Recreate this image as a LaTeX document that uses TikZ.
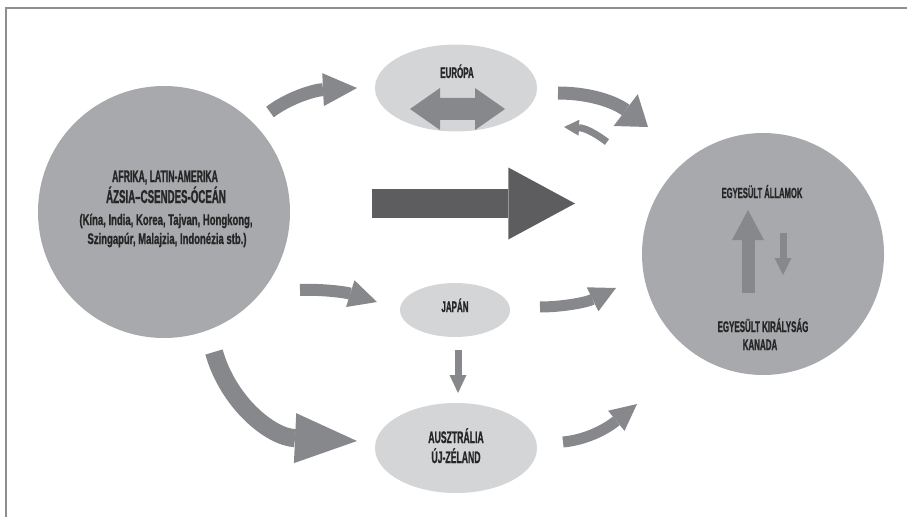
\documentclass[tikz,border=0pt]{standalone}
\usepackage{fontspec}
\setmainfont{Liberation Sans}[FakeStretch=0.52,BoldFeatures={FakeBold=1}]
\newfontfamily\widefont{Liberation Sans}[FakeStretch=0.62,BoldFeatures={FakeBold=1}]
\usetikzlibrary{arrows.meta,shapes.geometric}

\definecolor{discgray}{HTML}{A8A9AC}
\definecolor{ovalgray}{HTML}{D4D5D7}
\definecolor{flowgray}{HTML}{87888B}
\definecolor{maingray}{HTML}{5D5D60}
\definecolor{inkgray}{HTML}{262626}
\definecolor{framegray}{HTML}{8E8E8E}

\tikzset{
  bigdisc/.style={circle,fill=discgray,inner sep=0pt},
  region/.style={ellipse,fill=ovalgray,inner sep=0pt},
  lbl/.style={text=inkgray,inner sep=0.75pt,anchor=base,font=\bfseries\fontsize{#1}{14}\selectfont},
  lbl/.default=12,
  flow/.style={draw=flowgray,line cap=butt},
  flowtip/.style 2 args={-{Triangle[length=#1,width=#2,line width=0pt]}}
}

\begin{document}
\begin{tikzpicture}[x=0.75pt,y=0.75pt,yscale=-1,xscale=1]
\useasboundingbox (0,0) rectangle (907,517);

%Frame
\draw [framegray,line width=1pt] (6,517) |- (907,8) ;

%Shape: Circles
\node (src) [bigdisc,minimum size=189pt] at (164,212) {};
\node (usa) [bigdisc,minimum size=181.5pt] at (763,254) {};
%Shape: Ellipses
\node (eu) [region,minimum width=121.5pt,minimum height=65.25pt] at (456,88) {};
\node (jp) [region,minimum width=82.5pt,minimum height=40.5pt] at (455,310) {};
\node (au) [region,minimum width=121.5pt,minimum height=67.5pt] at (456,448) {};

% Text Node
\node (srcA) [lbl=12.5] at (165,182) {AFRIKA, LATIN-AMERIKA};
\node (srcB) [lbl=14] at (166,203) {ÁZSIA–CSENDES-ÓCEÁN};
\node (srcC) [lbl=11.5] at (166,225) {\widefont (Kína, India, Korea, Tajvan, Hongkong,};
\node (srcD) [lbl=11.5] at (167,244) {\widefont Szingapúr, Malajzia, Indonézia stb.)};
% Text Node
\node (euT) [lbl=11.5] at (457,78) {EURÓPA};
\node (jpT) [lbl=11.5] at (455,312) {JAPÁN};
\node (auT) [lbl=12.5] at (456,443) {AUSZTRÁLIA};
\node (auT2) [lbl=12.5] at (456,463) {ÚJ-ZÉLAND};
% Text Node
\node (usaT) [lbl=11] at (762,198) {EGYESÜLT ÁLLAMOK};
\node (ukT) [lbl=11.5] at (763,332) {EGYESÜLT KIRÁLYSÁG};
\node (caT) [lbl=11.5] at (760,350) {KANADA};

%Connector ends
\coordinate (s-eu) at (270,112);  \coordinate (eu-in) at (357,88);
\coordinate (s-jp) at (300,290);  \coordinate (jp-in) at (377,302);
\coordinate (s-au) at (214,352);  \coordinate (au-in) at (357,441);
\coordinate (s-us) at (372,203.5); \coordinate (us-in) at (575,203.5);
\coordinate (eu-out) at (558,93); \coordinate (us-top) at (648,127);
\coordinate (us-back) at (607,142); \coordinate (eu-back) at (564,127);
\coordinate (jp-out) at (540,307); \coordinate (us-mid) at (616,288);
\coordinate (au-out) at (563,442); \coordinate (us-low) at (637,404);
\coordinate (jp-down) at (458,350); \coordinate (au-top) at (458,393);
\coordinate (uk-up) at (748,293); \coordinate (usa-up) at (748,210);
\coordinate (usa-dn) at (783,233); \coordinate (uk-dn) at (783,275);

%Curved arrows
\draw [flow,line width=9.75pt,flowtip={25.5pt}{24.75pt}] (s-eu) .. controls (290,97) and (315,90) .. (eu-in) ;
\draw [flow,line width=9pt,flowtip={21pt}{21pt}] (s-jp) .. controls (320,289) and (345,292) .. (jp-in) ;
\draw [flow,line width=13.5pt,flowtip={46.5pt}{37.5pt}] (s-au) .. controls (228,402) and (270,437) .. (au-in) ;
\draw [flow,line width=9.75pt,flowtip={21pt}{30pt}] (eu-out) .. controls (590,93) and (615,102) .. (us-top) ;
\draw [flow,line width=5.25pt,flowtip={11.25pt}{12pt}] (us-back) .. controls (595,133) and (585,128) .. (eu-back) ;
\draw [flow,line width=8.25pt,flowtip={19.5pt}{20pt}] (jp-out) .. controls (560,307) and (585,303) .. (us-mid) ;
\draw [flow,line width=8.25pt,flowtip={20pt}{19.5pt}] (au-out) .. controls (585,440) and (605,430) .. (us-low) ;

%Straight arrows
\draw [draw=maingray,line width=21.75pt,flowtip={50pt}{54pt}] (s-us) -- (us-in) ;
\draw [flow,line width=5.25pt,flowtip={13.5pt}{12.75pt}] (jp-down) -- (au-top) ;
\draw [flow,line width=9.75pt,flowtip={22.5pt}{24pt}] (uk-up) -- (usa-up) ;
\draw [flow,line width=5.25pt,flowtip={12.75pt}{12.75pt}] (usa-dn) -- (uk-dn) ;

%Double arrow inside EUROPA
\fill [flowgray] (410,109) -- (440,88) -- (440,98) -- (475,98) -- (475,88) -- (505,109)
  -- (475,130) -- (475,120) -- (440,120) -- (440,130) -- cycle ;

\end{tikzpicture}
\end{document}
